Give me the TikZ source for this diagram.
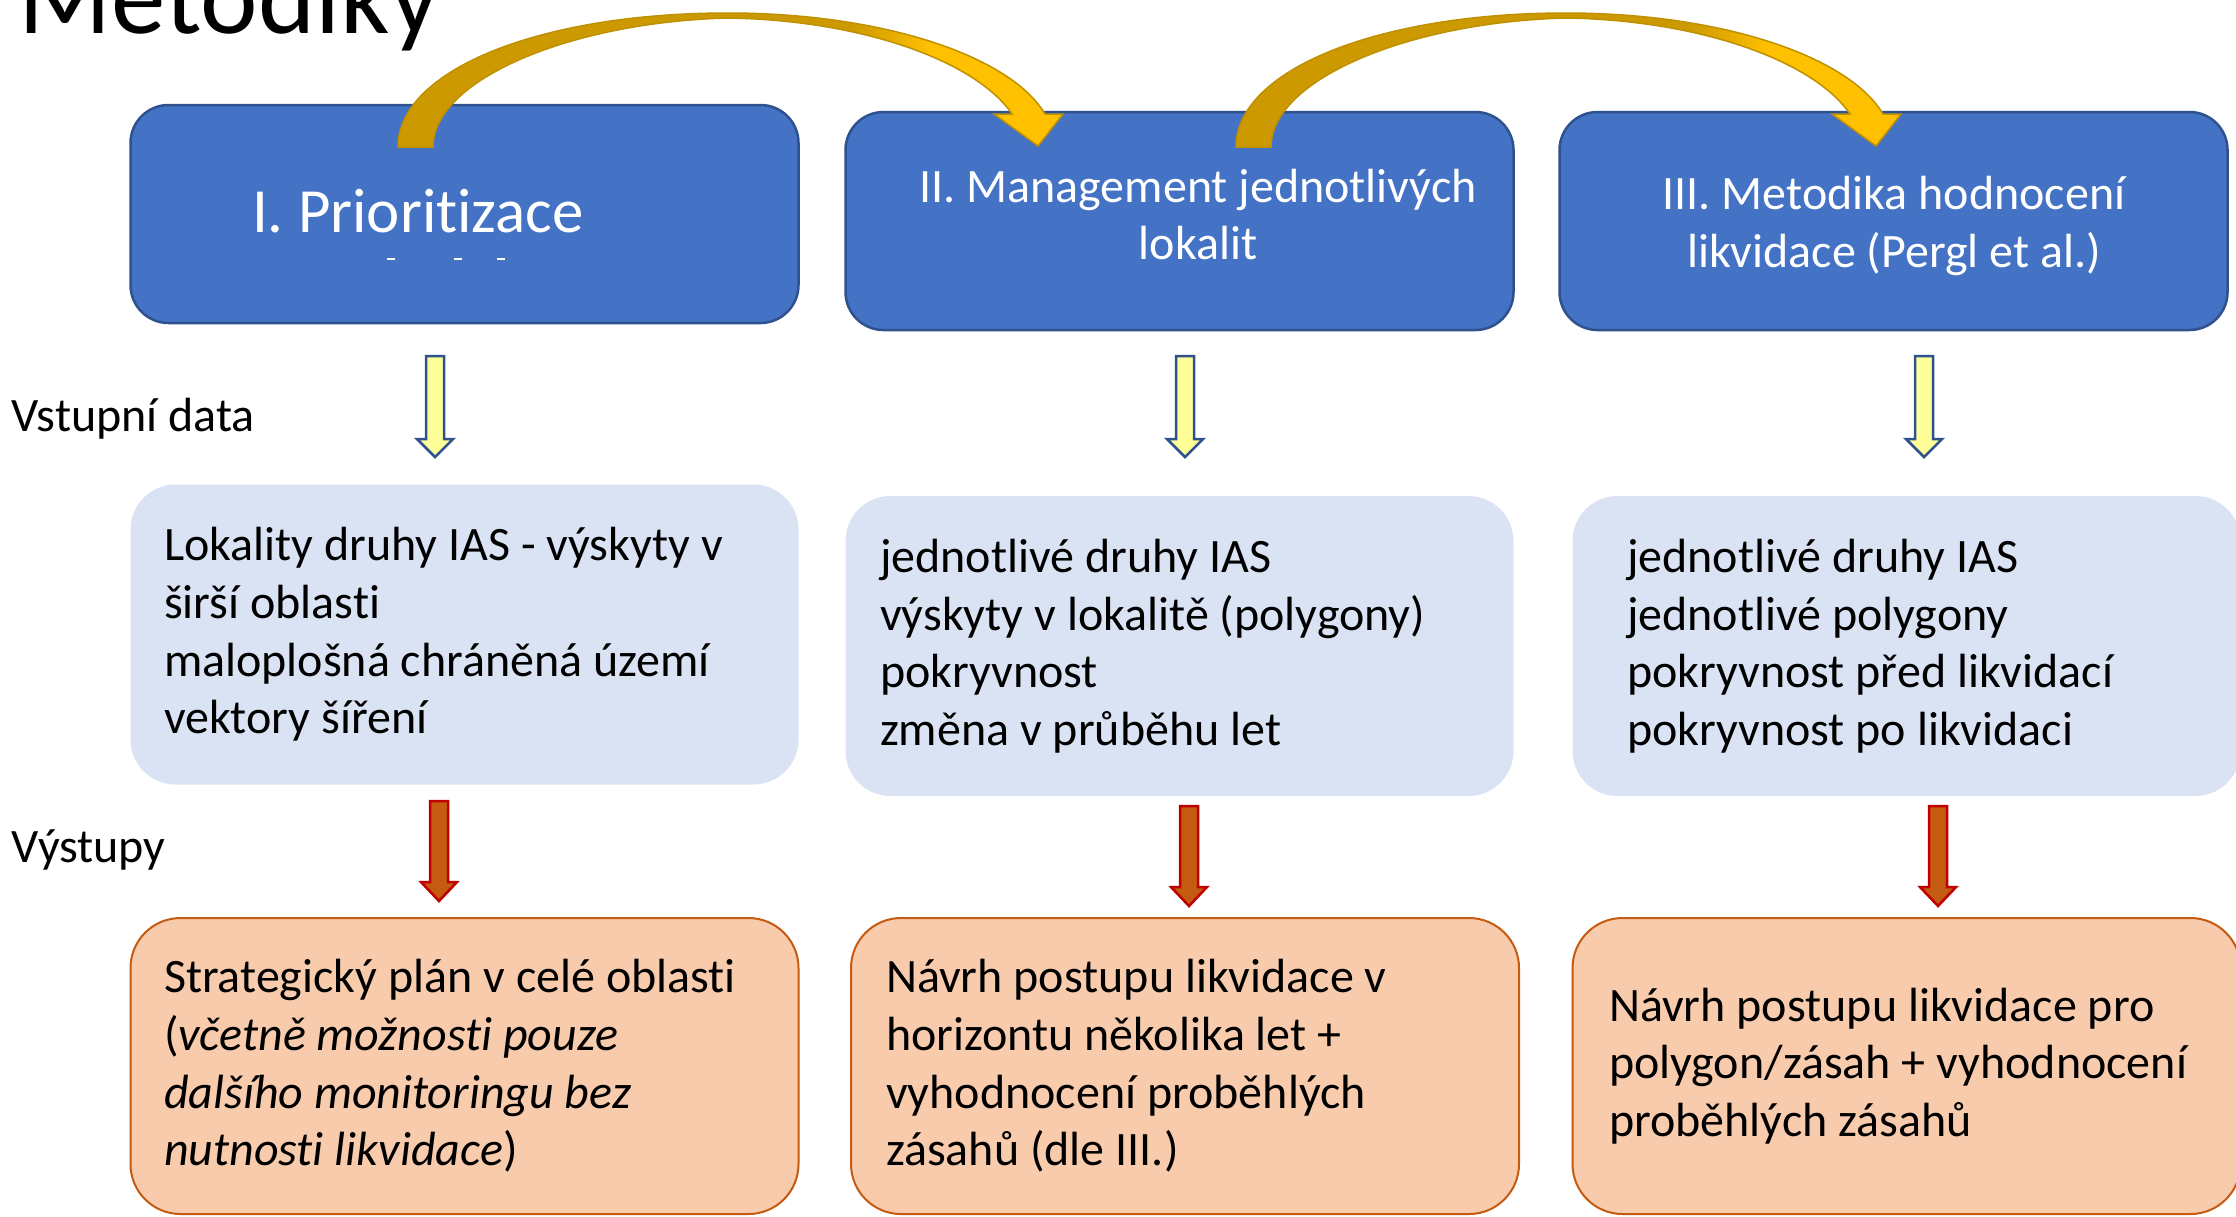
\documentclass[tikz,border=0pt]{standalone}
\usepackage{fontspec}
\setmainfont{Carlito}[Ligatures=NoCommon]
\definecolor{topblue}{HTML}{4472C4}
\definecolor{topedge}{HTML}{2F528F}
\definecolor{inblue}{HTML}{DAE3F3}
\definecolor{outfill}{HTML}{F8CBAD}
\definecolor{outedge}{HTML}{C55A11}
\definecolor{arrowyellow}{HTML}{FFFF99}
\definecolor{arrowred}{HTML}{C00000}
\definecolor{golddark}{HTML}{CC9900}
\definecolor{goldlight}{HTML}{FFC000}
\definecolor{goldedge}{HTML}{BF9000}
\pgfdeclarehorizontalshading{goldribbon}{100bp}{color(0bp)=(golddark); color(59bp)=(golddark); color(65bp)=(goldlight); color(100bp)=(goldlight)}

\begin{document}
\begin{tikzpicture}[x=0.1mm, y=-0.1mm,
  bodyfont/.style={font=\fontsize{13.66}{16.4}\selectfont},
  topbox/.style={draw=topedge, line width=0.25mm, fill=topblue, rounded corners=3.8mm, minimum width=66.8mm, minimum height=21.8mm},
  toptext/.style={bodyfont, text=white, align=center, inner sep=0},
  inbox/.style={bodyfont, fill=inblue, rounded corners=4.5mm, minimum width=66.8mm, minimum height=30mm, align=left, execute at begin node={\spaceskip=0pt\xspaceskip=0pt\relax}},
  outbox/.style={bodyfont, draw=outedge, line width=0.2mm, fill=outfill, rounded corners=5mm, minimum width=66.8mm, minimum height=29.6mm, align=left, execute at begin node={\spaceskip=0pt\xspaceskip=0pt\relax}},
  inarrow/.style={draw=topedge, line width=0.25mm, fill=arrowyellow},
  outarrow/.style={draw=arrowred, line width=0.25mm, fill=outedge},
  bentarrow/.style={draw=goldedge, line width=0.15mm, shading=goldribbon}]
\useasboundingbox (0,0) rectangle (2236,1216);

\node[anchor=base west, inner sep=0, font=\fontsize{31}{37}\selectfont] (title) at (18,33) {Metodiky};

\node[topbox] (p1) at (464.5,214) {};
\node[topbox] (p2) at (1179.5,221) {};
\node[topbox] (p3) at (1893.5,221) {};
\node[toptext, font=\fontsize{17.9}{21.5}\selectfont] (t1) at (418,211) {I. Prioritizace};
\draw[white, line width=0.2mm] (387,259) -- (395,259) (454,259) -- (462,259) (497,259) -- (505,259);
\node[toptext] (t2) at (1198,214.5) {II. Management jednotlivých\\lokalit};
\node[toptext] (t3) at (1894,226) {III. Metodika hodnocení\\likvidace (Pergl et al.)};

\foreach \dx in {0,838}{
\begin{scope}[shift={(\dx,0)}]
\path[bentarrow] (398,147) .. controls (398,70) and (540,13) .. (728,13)
  .. controls (880,13) and (1010,55) .. (1045,114)
  -- (1063,114) -- (1038,146) -- (994,114) -- (1012,114)
  .. controls (975,60) and (860,20) .. (728,18)
  .. controls (570,22) and (433,80) .. (433,147) -- cycle;
\end{scope}
}

\node[anchor=west, inner sep=0, bodyfont] (vstup) at (11,419) {Vstupní data};
\node[anchor=west, inner sep=0, bodyfont] (vystup) at (11,850) {Výstupy};

\draw[inarrow] (426,356) -- ++(18,0) -- ++(0,83) -- ++(9,0) -- ++(-18,18) -- ++(-18,-18) -- ++(9,0) -- cycle;
\draw[inarrow] (1176,356) -- ++(18,0) -- ++(0,83) -- ++(9,0) -- ++(-18,18) -- ++(-18,-18) -- ++(9,0) -- cycle;
\draw[inarrow] (1915,356) -- ++(18,0) -- ++(0,83) -- ++(9,0) -- ++(-18,18) -- ++(-18,-18) -- ++(9,0) -- cycle;

\node[inbox, text width=60.1mm] (in1) at (464.5,634.5) {Lokality druhy IAS - výskyty v\\širší oblasti\\maloplošná chráněná území\\vektory šíření};
\node[inbox, text width=59.9mm] (in2) at (1179.5,646) {jednotlivé druhy IAS\\výskyty v lokalitě (polygony)\\pokryvnost\\změna v průběhu let};
\node[inbox, text width=55.9mm] (in3) at (1906.5,646) {jednotlivé druhy IAS\\jednotlivé polygony\\pokryvnost před likvidací\\pokryvnost po likvidaci};

\draw[outarrow] (430,801) -- ++(18,0) -- ++(0,81) -- ++(9,0) -- ++(-18,19) -- ++(-18,-19) -- ++(9,0) -- cycle;
\draw[outarrow] (1180,806) -- ++(18,0) -- ++(0,81) -- ++(9,0) -- ++(-18,19) -- ++(-18,-19) -- ++(9,0) -- cycle;
\draw[outarrow] (1929,806) -- ++(18,0) -- ++(0,81) -- ++(9,0) -- ++(-18,19) -- ++(-18,-19) -- ++(9,0) -- cycle;

\node[outbox, text width=60.1mm] (out1) at (464.5,1066) {Strategický plán v celé oblasti\\(\textit{včetně možnosti pouze}\\\textit{dalšího monitoringu bez}\\\textit{nutnosti likvidace})};
\node[outbox, text width=59.8mm] (out2) at (1185,1066) {Návrh postupu likvidace v\\horizontu několika let +\\vyhodnocení proběhlých\\zásahů (dle III.)};
\node[outbox, text width=59.5mm] (out3) at (1906.5,1066) {Návrh postupu likvidace pro\\polygon/zásah + vyhodnocení\\proběhlých zásahů};
\end{tikzpicture}
\end{document}
